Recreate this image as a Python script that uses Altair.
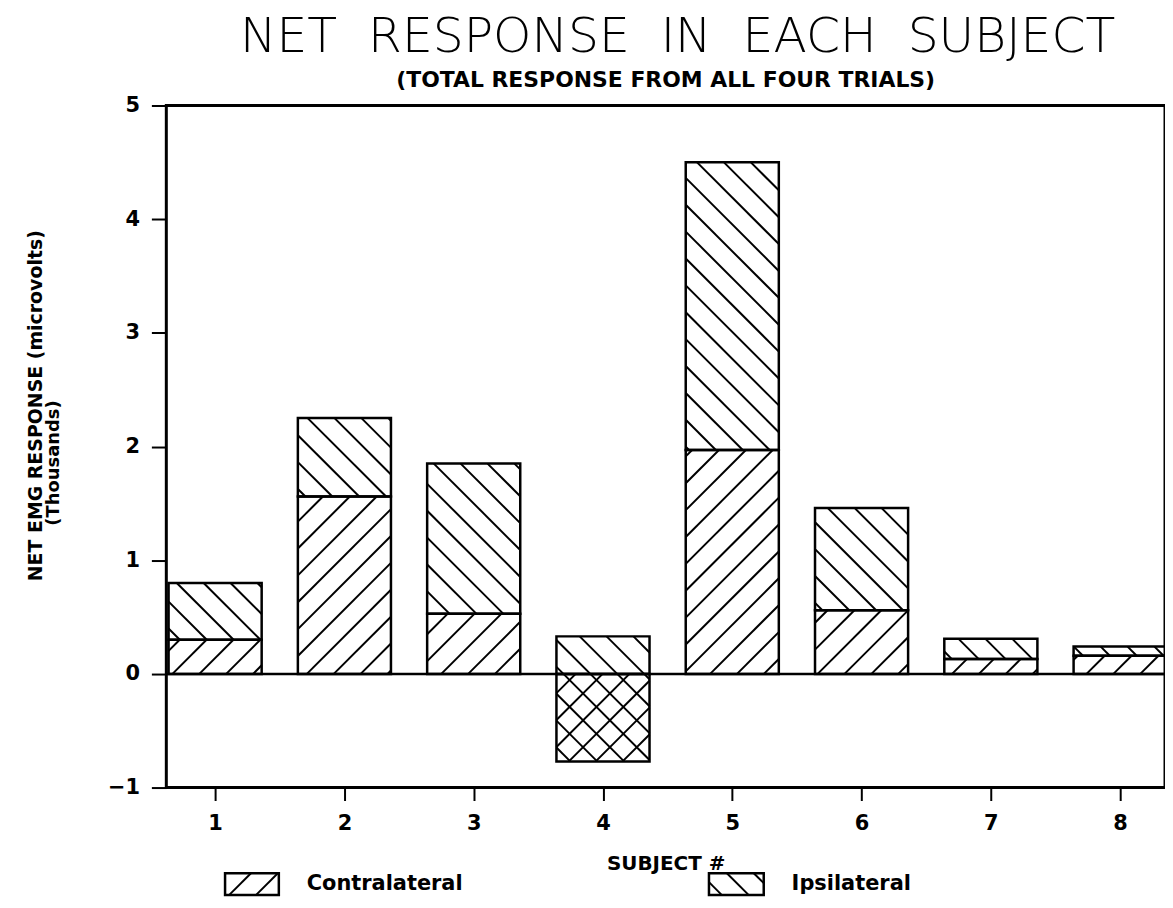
import math
import altair as alt
import pandas as pd

# ---- data ----
subjects = [1, 2, 3, 4, 5, 6, 7, 8]
contralateral = [0.30, 1.56, 0.53, -0.77, 1.97, 0.56, 0.13, 0.16]
ipsilateral = [0.50, 0.69, 1.32, 0.33, 2.53, 0.90, 0.18, 0.08]
y_ticks = [-1, 0, 1, 2, 3, 4, 5]
series_names = ["Contralateral", "Ipsilateral"]

TITLE = "NET\u00a0 RESPONSE\u00a0 IN\u00a0 EACH\u00a0 SUBJECT"
SUBTITLE = "(TOTAL RESPONSE FROM ALL FOUR TRIALS)"
Y_TITLE = "NET EMG RESPONSE (microvolts)"
Y_TITLE2 = "(Thousands)"
X_TITLE = "SUBJECT #"

# ---- layout ----
W, H = 1003, 685
XMIN, XMAX = 0.6225, 8.347
YMIN, YMAX = -1, 5
HALF = 0.36
STEP = 27
SX = W / (XMAX - XMIN)
SY = H / (YMAX - YMIN)
FONT = "DejaVu Sans"


def hatch(X0, X1, Y0, Y1, d, step, phase=0.0):
    """45-degree hatch segments inside a rectangle (pixel units, y up)."""
    segs = []
    if d > 0:
        cmin, cmax = Y0 - X1, Y1 - X0
    else:
        cmin, cmax = Y0 + X0, Y1 + X1
    k = math.floor((cmin - phase) / step) + 1
    while phase + k * step < cmax:
        c = phase + k * step
        pts = []
        for X in (X0, X1):
            Y = d * X + c
            if Y0 - 1e-9 <= Y <= Y1 + 1e-9:
                pts.append((X, Y))
        for Y in (Y0, Y1):
            X = d * (Y - c)
            if X0 - 1e-9 <= X <= X1 + 1e-9:
                pts.append((X, Y))
        if len(pts) >= 2:
            pts.sort()
            a, b = pts[0], pts[-1]
            if abs(b[0] - a[0]) > 2:
                segs.append((a, b))
        k += 1
    return segs


# ---- bar segments (stacked) ----
bar_rows = []
for s, c, i in zip(subjects, contralateral, ipsilateral):
    base = max(c, 0.0)
    bar_rows.append(dict(subject=s, series=series_names[0], lo=min(c, 0.0), hi=max(c, 0.0),
                         xl=s - HALF, xr=s + HALF))
    bar_rows.append(dict(subject=s, series=series_names[1], lo=base, hi=base + i,
                         xl=s - HALF, xr=s + HALF))
bars = pd.DataFrame(bar_rows)

hatch_rows = []
for r in bar_rows:
    X0 = (r["xl"] - XMIN) * SX
    X1 = (r["xr"] - XMIN) * SX
    Y0 = (r["lo"] - YMIN) * SY
    Y1 = (r["hi"] - YMIN) * SY
    if Y1 - Y0 < 1:
        continue
    if r["series"] == series_names[0]:
        dirs = [1, -1] if r["lo"] < 0 else [1]
    else:
        dirs = [-1]
    for d in dirs:
        for a, b in hatch(X0, X1, Y0, Y1, d, STEP):
            hatch_rows.append(dict(xl=a[0] / SX + XMIN, xr=b[0] / SX + XMIN,
                                   lo=a[1] / SY + YMIN, hi=b[1] / SY + YMIN))
hatches = pd.DataFrame(hatch_rows)

xs = alt.Scale(domain=[XMIN, XMAX], nice=False, zero=False)
ys = alt.Scale(domain=[YMIN, YMAX], nice=False, zero=False)

X_AXIS = alt.Axis(
    values=subjects, format="d", title=X_TITLE, titleY=76, titleBaseline="middle",
    titleFontSize=20, titleFontWeight="bold", titleFont=FONT, titleColor="black",
    labelFontSize=21, labelFontWeight="bold", labelFont=FONT, labelPadding=12,
    tickSize=13, tickWidth=2, tickColor="black", labelColor="black",
    domain=False, grid=False)
Y_AXIS = alt.Axis(
    values=y_ticks, format="d", title=Y_TITLE, titleX=-131, titleY=301,
    titleAngle=270, titleAlign="center", titleBaseline="middle",
    titleFontSize=19, titleFontWeight="bold", titleFont=FONT, titleColor="black",
    labelFontSize=21, labelFontWeight="bold", labelFont=FONT, labelPadding=12,
    tickSize=15, tickWidth=2, tickColor="black", labelColor="black",
    domain=False, grid=False)

bar_layer = alt.Chart(bars).mark_rect(fill="white", fillOpacity=0, stroke="black",
                                      strokeWidth=2.5).encode(
    x=alt.X("xl:Q", scale=xs, axis=X_AXIS),
    x2="xr:Q",
    y=alt.Y("lo:Q", scale=ys, axis=Y_AXIS),
    y2="hi:Q",
)

hatch_layer = alt.Chart(hatches).mark_rule(color="black", strokeWidth=2).encode(
    x=alt.X("xl:Q", scale=xs, axis=X_AXIS),
    x2="xr:Q",
    y=alt.Y("lo:Q", scale=ys, axis=Y_AXIS),
    y2="hi:Q",
)

zero_line = alt.Chart(pd.DataFrame({"lo": [0]})).mark_rule(color="black", strokeWidth=2.5).encode(
    y=alt.Y("lo:Q", scale=ys, axis=Y_AXIS)
)


def text_layer(txt, x, y, size, weight="bold", align="center", angle=0, font=FONT):
    return alt.Chart(pd.DataFrame({"t": [txt]})).mark_text(
        align=align, baseline="alphabetic" if angle == 0 else "middle",
        fontSize=size, fontWeight=weight, font=font, color="black", angle=angle
    ).encode(text="t:N", x=alt.value(x), y=alt.value(y))


title_layer = text_layer(TITLE, W / 2 + 12, -54, 49, weight=200)
subtitle_layer = text_layer(SUBTITLE, W / 2, -19, 22)
ytitle2_layer = text_layer(Y_TITLE2, -113, 359, 18, angle=270)


# ---- legend (pixel positions below the plot) ----
def legend_item(name, d, sx0, sx1, sy0, sy1, tx):
    segs = hatch(sx0, sx1, -sy1, -sy0, d, STEP, phase=8)
    hdf = pd.DataFrame([dict(px=a[0], px2=b[0], py=-a[1], py2=-b[1]) for a, b in segs])
    box = alt.Chart(pd.DataFrame({"k": [name]})).mark_rect(
        fill="white", stroke="black", strokeWidth=2.5).encode(
        x=alt.value(sx0), x2=alt.value(sx1), y=alt.value(sy0), y2=alt.value(sy1))
    lines = alt.Chart(hdf).mark_rule(color="black", strokeWidth=2).encode(
        x=alt.X("px:Q", scale=None), x2="px2:Q",
        y=alt.Y("py:Q", scale=None), y2="py2:Q")
    label = alt.Chart(pd.DataFrame({"t": [name]})).mark_text(
        align="left", baseline="middle", fontSize=21, fontWeight="bold", font=FONT,
        color="black").encode(text="t:N", x=alt.value(tx), y=alt.value((sy0 + sy1) / 2))
    return box + lines + label


leg1 = legend_item(series_names[0], 1, 59, 113, 771, 793, 141)
leg2 = legend_item(series_names[1], -1, 545, 600, 771, 793, 628)

chart = alt.layer(
    bar_layer, hatch_layer, zero_line, title_layer, subtitle_layer, ytitle2_layer, leg1, leg2
).resolve_scale(x="shared", y="shared").properties(
    width=W, height=H,
    autosize=alt.AutoSizeParams(type="none"),
    padding={"left": 159, "top": 96, "right": 0, "bottom": 111},
    background="white",
).configure_view(stroke="black", strokeWidth=3)

chart.save("out.html", embed_options={"renderer": "svg", "actions": False})
